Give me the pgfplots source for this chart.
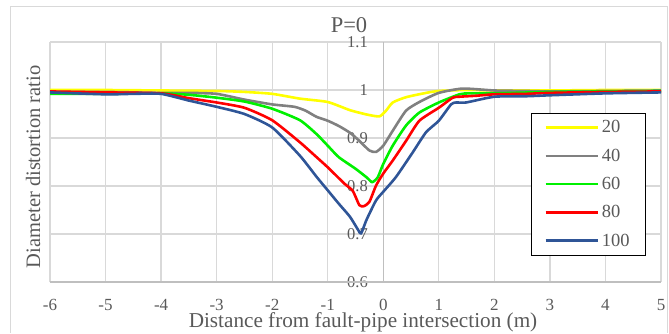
\documentclass[border=0pt]{standalone}
\usepackage{pgfplots}
\pgfplotsset{compat=1.18}
\usepackage{fontspec}
\setmainfont{Liberation Serif}
\definecolor{cyel}{RGB}{255,255,0}
\definecolor{cgray}{RGB}{128,128,128}
\definecolor{cgreen}{RGB}{0,240,0}
\definecolor{cred}{RGB}{255,0,0}
\definecolor{cblue}{RGB}{47,85,151}
\definecolor{gridc}{RGB}{217,217,217}
\definecolor{axc}{RGB}{191,191,191}
\definecolor{txtc}{RGB}{89,89,89}
\begin{document}
\begin{tikzpicture}[x=1pt,y=1pt]
\useasboundingbox (0,0) rectangle (669,333);
\draw[gridc, line width=1pt] (10,0) -- (10,326) -- (667,326) -- (667,0);
\begin{axis}[
  at={(50pt,51pt)}, anchor=south west, scale only axis,
  width=611pt, height=240pt,
  xmin=-6, xmax=5, ymin=0.6, ymax=1.1,
  xtick={-6,-5,-4,-3,-2,-1,0,1,2,3,4,5},
  xticklabels={-6,-5,-4,-3,-2,-1,0,1,2,3,4,5},
  ytick={0.6,0.7,0.8,0.9,1.0,1.1},
  yticklabels={0.6,0.7,0.8,0.9,1,1.1},
  major tick length=0pt,
  grid=major,
  grid style={gridc, line width=1.2pt},
  axis line style={draw=none},
  extra x ticks={0}, extra x tick labels={},
  extra x tick style={grid style={axc, line width=1.3pt}},
  extra y ticks={0.6}, extra y tick labels={},
  extra y tick style={grid style={axc, line width=1.3pt}},
  xticklabel style={anchor=base, yshift=-28pt, font=\fontsize{17}{18}\selectfont, text=txtc},
  yticklabel style={anchor=east, inner sep=0pt, xshift=318pt, font=\fontsize{16.5}{18}\selectfont, text=txtc},
  legend style={at={(0.9755,0.704)}, anchor=north east, draw=black, line width=0.8pt,
     font=\fontsize{18.5}{19}\selectfont, text=txtc, inner xsep=13pt, inner ysep=0pt,
     row sep=0pt,
     nodes={inner ysep=0pt, inner xsep=3pt, minimum height=28.3pt}},
  legend cell align=left,
  legend image code/.code={\draw[#1] (0pt,0pt) -- (52pt,0pt);},
  every axis plot/.append style={line width=2.6pt, line join=round, smooth, tension=0.35},
]
\addplot[cyel] coordinates {
(-6,1.000) (-5,1.000) (-4,0.999) (-3,0.998) (-2.5,0.996) (-2,0.992) (-1.5,0.982)
(-1,0.975) (-0.6,0.958) (-0.3,0.949) (-0.07,0.945) (0.05,0.957) (0.17,0.974)
(0.41,0.985) (0.77,0.994) (1,0.998) (1.5,1.000) (2,0.999) (3,0.999) (4,1.000) (5,1.000)};
\addlegendentry{20}
\addplot[cgray] coordinates {
(-6,0.996) (-5,0.996) (-4,0.994) (-3.5,0.994) (-3,0.992) (-2.5,0.980) (-2,0.970)
(-1.6,0.965) (-1.4,0.957) (-1.2,0.944) (-1,0.936) (-0.8,0.925) (-0.6,0.911)
(-0.43,0.894) (-0.25,0.874) (-0.13,0.871) (0,0.884) (0.17,0.915) (0.41,0.957)
(0.65,0.975) (1,0.994) (1.43,1.003) (2,0.999) (2.57,0.998) (3,0.997) (4,0.998) (5,0.999)};
\addlegendentry{40}
\addplot[cgreen] coordinates {
(-6,0.992) (-5,0.992) (-4,0.993) (-3.5,0.990) (-3,0.984) (-2.5,0.976) (-2,0.961)
(-1.5,0.937) (-1.2,0.908) (-1,0.884) (-0.8,0.860) (-0.5,0.836) (-0.3,0.818)
(-0.2,0.808) (-0.1,0.818) (0,0.846) (0.17,0.884) (0.41,0.926) (0.65,0.953)
(1,0.974) (1.37,0.991) (1.55,0.993) (2,0.993) (3,0.996) (4,0.997) (5,0.998)};
\addlegendentry{60}
\addplot[cred] coordinates {
(-6,0.997) (-5,0.995) (-4,0.993) (-3.5,0.983) (-3,0.974) (-2.5,0.963) (-2,0.937)
(-1.5,0.891) (-1.2,0.860) (-1,0.839) (-0.7,0.805) (-0.55,0.790) (-0.43,0.760)
(-0.35,0.758) (-0.25,0.767) (-0.13,0.801) (0,0.826) (0.17,0.853) (0.41,0.894)
(0.65,0.936) (1,0.963) (1.25,0.984) (1.37,0.986) (1.67,0.988) (2,0.991)
(2.57,0.992) (3,0.994) (4,0.996) (5,0.997)};
\addlegendentry{80}
\addplot[cblue] coordinates {
(-6,0.995) (-5,0.991) (-4.5,0.992) (-4,0.992) (-3.5,0.978) (-3,0.965) (-2.5,0.950)
(-2,0.922) (-1.5,0.863) (-1.2,0.819) (-1,0.791) (-0.8,0.763) (-0.6,0.736)
(-0.45,0.708) (-0.4,0.701) (-0.3,0.730) (-0.13,0.770) (0,0.788) (0.23,0.819)
(0.53,0.870) (0.77,0.912) (1,0.936) (1.22,0.970) (1.31,0.974) (1.49,0.974)
(2,0.986) (2.57,0.987) (3,0.989) (4,0.993) (5,0.995)};
\addlegendentry{100}
\end{axis}
\node[anchor=base, text=txtc, font=\fontsize{22.5}{23}\selectfont] at (349,301) {P=0};
\node[anchor=base, text=txtc, font=\fontsize{21.2}{22}\selectfont] at (363,6) {Distance from fault-pipe intersection (m)};
\node[anchor=base, rotate=90, text=txtc, font=\fontsize{20.5}{21}\selectfont] at (40,166) {Diameter distortion ratio};
\end{tikzpicture}
\end{document}
